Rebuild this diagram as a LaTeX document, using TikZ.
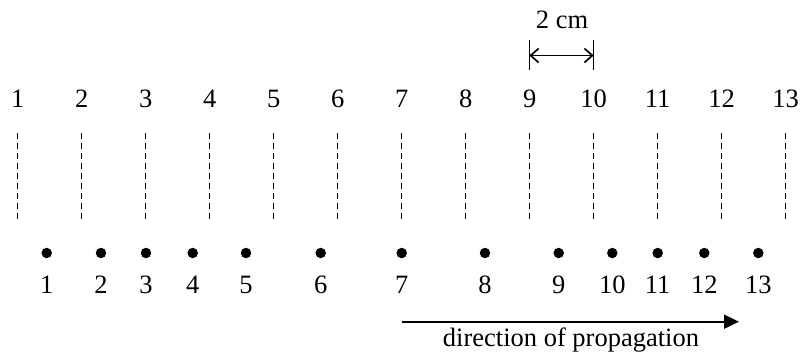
\documentclass[tikz,border=0pt]{standalone}
\usepackage{fontspec}
\setmainfont{Liberation Serif}
\usetikzlibrary{arrows.meta}
\begin{document}
\begin{tikzpicture}[x=1pt,y=-1pt,
  lbl/.style={inner sep=0pt,font=\fontsize{26.5}{29}\selectfont},
  dotnode/.style={circle,fill=black,inner sep=0pt,minimum size=10.5pt},
  guide/.style={line width=0.9pt,dash pattern=on 5.5pt off 4.5pt}]
\useasboundingbox (0,0) rectangle (803,360);
% top labels and dashed guide lines
\foreach \i in {1,...,13}{
  \pgfmathsetmacro{\xx}{17.7+64*(\i-1)}
  \node[lbl] (t\i) at (\xx,99) {\i};
  \coordinate (ga\i) at (\xx,133);
  \coordinate (gb\i) at (\xx,223);
  \draw[guide] (ga\i) -- (gb\i);
}
% dots and their labels
\foreach \i/\xx in {1/46.7,2/101,3/146,4/192.7,5/246,6/320.7,7/401.7,8/485,9/558.7,10/612.3,11/657.7,12/704.3,13/758.3}{
  \node[dotnode] (d\i) at (\xx,253) {};
  \node[lbl] (b\i) at (\xx,285) {\i};
}
% 2 cm scale
\coordinate (sa) at (529.3,40);
\coordinate (sb) at (529.3,70);
\coordinate (sc) at (593.7,40);
\coordinate (sd) at (593.7,70);
\draw[line width=1.1pt] (sa) -- (sb);
\draw[line width=1.1pt] (sc) -- (sd);
\coordinate (sl) at (529.3,55.5);
\coordinate (sr) at (593.7,55.5);
\draw[line width=1.7pt,{Straight Barb[length=8pt,width=14pt]}-{Straight Barb[length=8pt,width=14pt]}] (sl) -- (sr);
\node[lbl] (cm) at (562,20) {2 cm};
% propagation arrow
\coordinate (pa) at (401.7,321.7);
\coordinate (pb) at (739,321.7);
\draw[line width=1.8pt,-{Triangle[length=15pt,width=14pt]}] (pa) -- (pb);
\node[lbl] (prop) at (571,340) {direction of propagation};
\end{tikzpicture}
\end{document}
